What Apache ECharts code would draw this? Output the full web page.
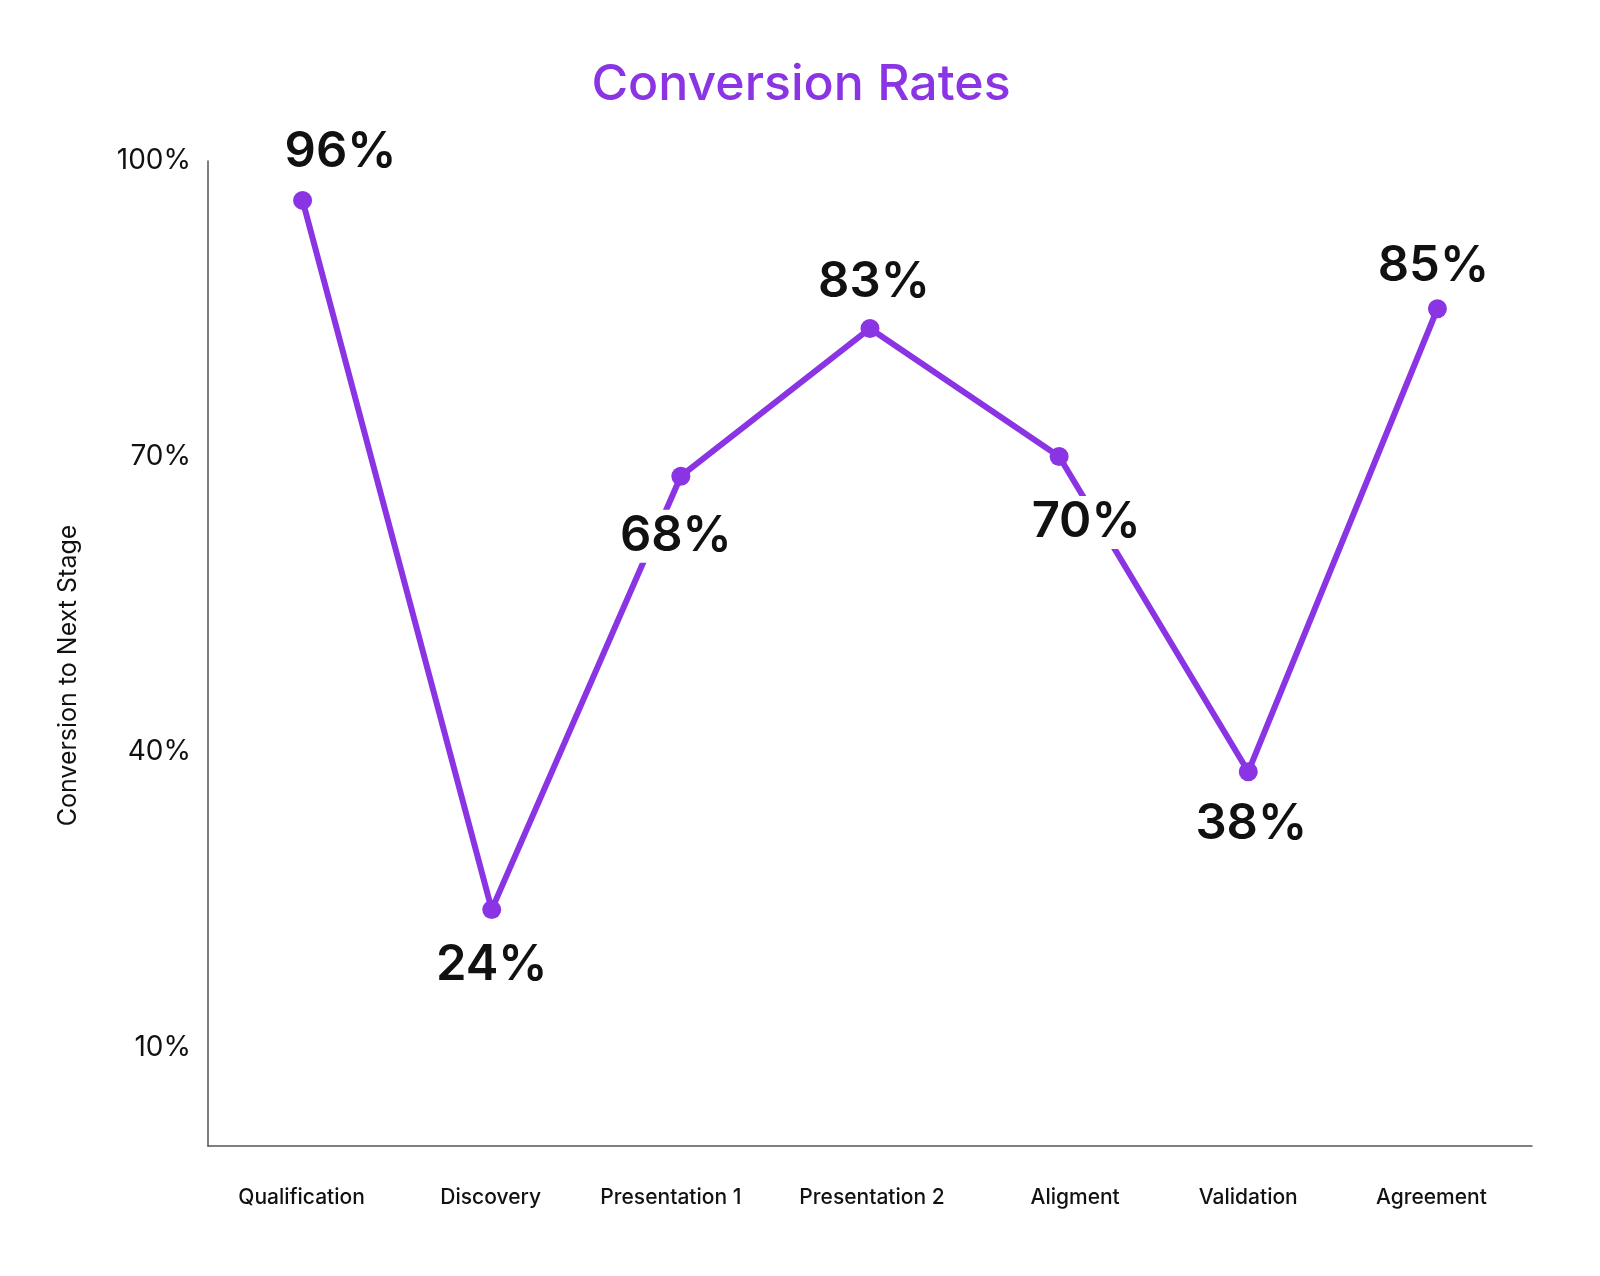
<!DOCTYPE html>
<html>
<head>
<meta charset="utf-8">
<style>
html,body{margin:0;padding:0;background:#fff;}
#chart{width:1600px;height:1276px;}
</style>
<script src="https://cdn.jsdelivr.net/npm/echarts@6/dist/echarts.min.js"></script>
</head>
<body>
<div id="chart"></div>
<script>
const categories = ['Qualification','Discovery','Presentation 1','Presentation 2','Aligment','Validation','Agreement'];
const conversionRates = [96, 24, 68, 83, 70, 38, 85];
const yTicks = [10, 40, 70, 100];

// label placement (style, separate from data)
const labelOffsets = [[38,-48],[0,56],[-5,60],[4,-46],[27,66],[3,53],[-4,-42]];
const xLabelShift = [-1, -1, -10, 2, 16, 0, -6];

const purple = '#8A34E4';
const font = 'Inter, "Noto Sans", sans-serif';

const chart = echarts.init(document.getElementById('chart'));
chart.setOption({
  backgroundColor: '#fff',
  animation: false,
  title: {
    text: 'Conversion Rates',
    left: 796,
    top: 55,
    textAlign: 'center',
    textStyle: {color: purple, fontSize: 50, fontWeight: 500, fontFamily: font}
  },
  grid: {left: 208, right: 68, top: 161, bottom: 130},
  xAxis: {
    type: 'category',
    data: categories.map((c, i) => {
      const d = xLabelShift[i];
      return {
        value: c,
        textStyle: {padding: d >= 0 ? [0, 0, 0, 2 * d] : [0, -2 * d, 0, 0]}
      };
    }),
    boundaryGap: true,
    axisLine: {lineStyle: {color: '#555', width: 1.5}},
    axisTick: {show: false},
    axisLabel: {color: '#111', fontSize: 21, fontFamily: font, margin: 41, fontWeight: 500}
  },
  yAxis: {
    type: 'value',
    min: 0,
    max: 100,
    interval: 10,
    name: 'Conversion to Next Stage',
    nameLocation: 'middle',
    nameGap: 127,
    nameRotate: 90,
    nameTextStyle: {color: '#111', fontSize: 25, fontFamily: font, padding: [0,0,0,-44]},
    axisLine: {show: true, lineStyle: {color: '#555', width: 1.5}},
    axisTick: {show: false},
    splitLine: {show: false},
    axisLabel: {
      color: '#111', fontSize: 28, fontFamily: font, margin: 17,
      formatter: v => yTicks.indexOf(v) >= 0 ? v + '%' : ''
    }
  },
  series: [{
    type: 'line',
    data: conversionRates.map((v, i) => ({
      value: v,
      label: {offset: labelOffsets[i]}
    })),
    symbol: 'circle',
    symbolSize: 19,
    lineStyle: {color: purple, width: 6},
    itemStyle: {color: purple},
    label: {
      show: true,
      position: 'inside',
      formatter: p => p.value + '%',
      color: '#111',
      fontSize: 49,
      fontWeight: 600,
      fontFamily: font,
      backgroundColor: '#fff',
      padding: [2, 4]
    },
    z: 3
  }]
});
</script>
</body>
</html>
